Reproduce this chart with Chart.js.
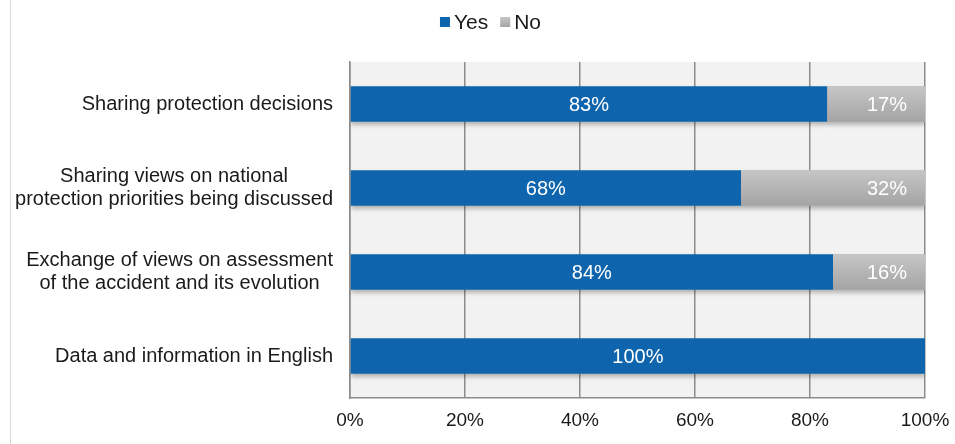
<!DOCTYPE html>
<html>
<head>
<meta charset="utf-8">
<script src="https://cdn.jsdelivr.net/npm/chart.js@4.4.0/dist/chart.umd.min.js"></script>
<style>
  html, body { margin: 0; padding: 0; background: #fff; }
  #wrap { width: 955px; height: 444px; }
</style>
</head>
<body>
<div id="wrap"><canvas id="surveyChart"></canvas></div>
<script>
const categories = [
    ['Sharing protection decisions'],
    ['Sharing views on national', 'protection priorities being discussed'],
    ['Exchange of views on assessment', 'of the accident and its evolution'],
    ['Data and information in English']
];
const seriesNames = ['Yes', 'No'];
const yesValues = [83, 68, 84, 100];
const noValues = [17, 32, 16, 0];
const tickLabels = ['0%', '20%', '40%', '60%', '80%', '100%'];

const FONT = "'Liberation Sans', Arial, sans-serif";
const YES_COLOR = '#0e65ad';
const NO_TOP = '#c6c6c6';
const NO_BOTTOM = '#a4a4a4';

function grayGradient(ctx, top, bottom) {
    const g = ctx.createLinearGradient(0, top, 0, bottom);
    g.addColorStop(0, NO_TOP);
    g.addColorStop(1, NO_BOTTOM);
    return g;
}

/* light plot background + faint frame line on the left */
const plotBackground = {
    id: 'plotBackground',
    beforeDraw(chart) {
        const { ctx, chartArea } = chart;
        ctx.save();
        ctx.fillStyle = '#f2f2f2';
        ctx.fillRect(chartArea.left, chartArea.top, chartArea.right - chartArea.left, chartArea.bottom - chartArea.top);
        ctx.strokeStyle = '#d9d9d9';
        ctx.lineWidth = 1;
        ctx.beginPath();
        ctx.moveTo(10.5, 0);
        ctx.lineTo(10.5, chart.height);
        ctx.stroke();
        ctx.restore();
    }
};

/* soft shadow under bars */
const barShadow = {
    id: 'barShadow',
    beforeDatasetsDraw(chart) {
        const ctx = chart.ctx;
        ctx.save();
        ctx.shadowColor = 'rgba(0,0,0,0.25)';
        ctx.shadowBlur = 4;
        ctx.shadowOffsetY = 3;
    },
    afterDatasetsDraw(chart) {
        chart.ctx.restore();
    }
};

/* y labels: single lines right aligned, multi-line blocks centred */
const categoryLabels = {
    id: 'categoryLabels',
    afterDraw(chart) {
        const { ctx } = chart;
        const yScale = chart.scales.y;
        const rightEdge = chart.chartArea.left - 17;
        const lineHeight = 23;
        ctx.save();
        ctx.font = '20px ' + FONT;
        ctx.fillStyle = '#1a1a1a';
        ctx.textAlign = 'center';
        ctx.textBaseline = 'middle';
        categories.forEach(function (lines, i) {
            const yc = yScale.getPixelForValue(i);
            let maxW = 0;
            lines.forEach(function (l) { maxW = Math.max(maxW, ctx.measureText(l).width); });
            const xc = rightEdge - maxW / 2;
            const y0 = yc - (lines.length - 1) * lineHeight / 2;
            lines.forEach(function (l, j) {
                ctx.fillText(l, xc, y0 + j * lineHeight);
            });
        });
        ctx.restore();
    }
};

/* gradient on the grey bars, then value labels inside bars */
const valueLabels = {
    id: 'valueLabels',
    afterDatasetsDraw(chart) {
        const ctx = chart.ctx;
        ctx.save();
        chart.getDatasetMeta(1).data.forEach(function (bar, i) {
            if (!noValues[i]) return;
            const top = bar.y - bar.height / 2;
            ctx.fillStyle = grayGradient(ctx, top, top + bar.height);
            ctx.fillRect(bar.base, top, bar.x - bar.base, bar.height);
        });
        ctx.font = '20px ' + FONT;
        ctx.fillStyle = '#ffffff';
        ctx.textBaseline = 'middle';
        chart.data.datasets.forEach(function (ds, di) {
            const meta = chart.getDatasetMeta(di);
            meta.data.forEach(function (bar, i) {
                const v = ds.data[i];
                if (!v) return;
                if (di === 0) {
                    ctx.textAlign = 'center';
                    ctx.fillText(v + '%', (bar.x + bar.base) / 2, bar.y + 1);
                } else {
                    ctx.textAlign = 'right';
                    ctx.fillText(v + '%', bar.x - 18, bar.y + 1);
                }
            });
        });
        ctx.restore();
    }
};

/* legend drawn by hand: small squares close to their text */
const customLegend = {
    id: 'customLegend',
    afterDraw(chart) {
        const ctx = chart.ctx;
        ctx.save();
        ctx.font = '21px ' + FONT;
        ctx.textBaseline = 'middle';
        ctx.textAlign = 'left';
        const box = 10, gapText = 4, gapItem = 12, yc = 22;
        let total = 0;
        seriesNames.forEach(function (n, i) {
            total += box + gapText + ctx.measureText(n).width;
            if (i < seriesNames.length - 1) total += gapItem;
        });
        let x = chart.width / 2 + 13 - total / 2;
        seriesNames.forEach(function (n, i) {
            ctx.fillStyle = i === 0 ? YES_COLOR : grayGradient(ctx, yc - 5, yc + 5);
            ctx.fillRect(x, yc - 5, box, box);
            x += box + gapText;
            ctx.fillStyle = '#1a1a1a';
            ctx.fillText(n, x, yc + 1);
            x += ctx.measureText(n).width + gapItem;
        });
        ctx.restore();
    }
};

const ctx = document.getElementById('surveyChart').getContext('2d');
const surveyChart = new Chart(ctx, {
    type: 'bar',
    data: {
        labels: categories,
        datasets: [{
            label: seriesNames[0],
            data: yesValues,
            backgroundColor: YES_COLOR,
            borderWidth: 0,
            barPercentage: 0.42,
            categoryPercentage: 1.0
        }, {
            label: seriesNames[1],
            data: noValues,
            backgroundColor: '#b5b5b5',
            borderWidth: 0,
            barPercentage: 0.42,
            categoryPercentage: 1.0
        }]
    },
    options: {
        indexAxis: 'y',
        responsive: true,
        maintainAspectRatio: false,
        animation: false,
        layout: {
            padding: { left: 0, right: 30, top: 62, bottom: 0 }
        },
        plugins: {
            legend: { display: false },
            tooltip: { enabled: false }
        },
        scales: {
            x: {
                stacked: true,
                min: 0,
                max: 100,
                afterBuildTicks: function (scale) {
                    scale.ticks = tickLabels.map(function (t) { return { value: parseFloat(t) }; });
                },
                ticks: {
                    callback: function (value) { return value + '%'; },
                    color: '#1a1a1a',
                    padding: 11,
                    maxRotation: 0,
                    font: { family: FONT, size: 19 }
                },
                grid: {
                    color: '#8c8c8c',
                    lineWidth: 1.5,
                    drawTicks: false
                },
                border: { display: true, color: '#8c8c8c', width: 1.5 },
                afterFit: function (scale) {
                    scale.height = 46;
                    scale.paddingLeft = 0;
                    scale.paddingRight = 0;
                }
            },
            y: {
                stacked: true,
                ticks: { display: false },
                grid: { display: false, drawTicks: false },
                border: { display: true, color: '#8c8c8c', width: 1.5 },
                afterFit: function (scale) { scale.width = 350; }
            }
        }
    },
    plugins: [plotBackground, barShadow, valueLabels, categoryLabels, customLegend]
});
</script>
</body>
</html>
